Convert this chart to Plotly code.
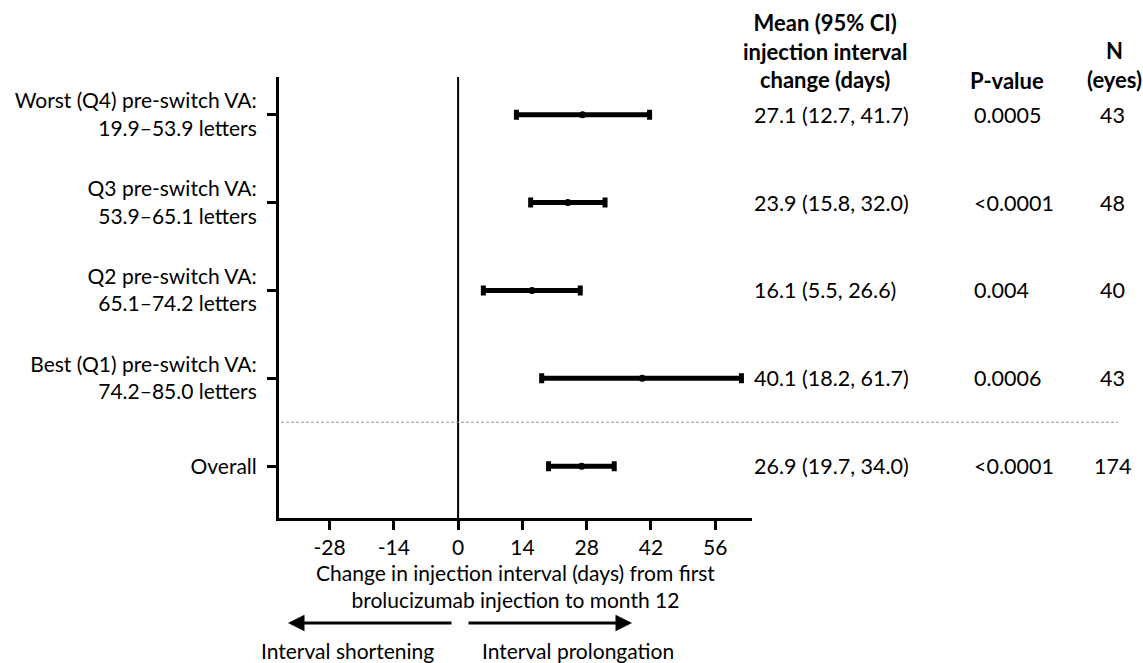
import plotly.graph_objects as go

# ---- data ----
labels = [
    "Worst (Q4) pre-switch VA:<br>19.9–53.9 letters",
    "Q3 pre-switch VA:<br>53.9–65.1 letters",
    "Q2 pre-switch VA:<br>65.1–74.2 letters",
    "Best (Q1) pre-switch VA:<br>74.2–85.0 letters",
    "Overall",
]
means = [27.1, 23.9, 16.1, 40.1, 26.9]
lower = [12.7, 15.8, 5.5, 18.2, 19.7]
upper = [41.7, 32.0, 26.6, 61.7, 34.0]
pvalues = ["0.0005", "<0.0001", "0.004", "0.0006", "<0.0001"]
n_eyes = [43, 48, 40, 43, 174]
row_pos = [5, 4, 3, 2, 1]
x_ticks = [-28, -14, 0, 14, 28, 42, 56]

FONT = "Lato, 'Open Sans', sans-serif"
FS = 21
FS_T = 21.5
FS_H = 22

L, T, PW, PH = 279, 77, 473, 441


def px_x(p):
    return (p - L) / PW


def px_y(p):
    return (T + PH - p) / PH


fig = go.Figure()
fig.add_trace(go.Scatter(
    x=means, y=row_pos, mode="markers",
    marker=dict(color="black", size=7, symbol="circle"),
    error_x=dict(type="data", symmetric=False,
                 array=[u - m for u, m in zip(upper, means)],
                 arrayminus=[m - l for m, l in zip(means, lower)],
                 color="black", thickness=5, width=5),
    showlegend=False, cliponaxis=False,
))

ann = []
for y, m, l, u, p, n in zip(row_pos, means, lower, upper, pvalues, n_eyes):
    ann.append(dict(x=px_x(752), y=y, xref="paper", yref="y", showarrow=False,
                    text=f"{m:.1f} ({l:.1f}, {u:.1f})", xanchor="left", yanchor="middle",
                    font=dict(size=FS_T)))
    ann.append(dict(x=px_x(972), y=y, xref="paper", yref="y", showarrow=False,
                    text=p, xanchor="left", yanchor="middle", font=dict(size=FS_T)))
    ann.append(dict(x=px_x(1112), y=y, xref="paper", yref="y", showarrow=False,
                    text=str(n), xanchor="center", yanchor="middle", font=dict(size=FS_T)))

ann.append(dict(x=px_x(825), y=px_y(51), xref="paper", yref="paper", showarrow=False,
                xanchor="center", yanchor="middle", font=dict(size=FS_H),
                text="<b>Mean (95% CI)<br>injection interval<br>change (days)</b>"))
ann.append(dict(x=px_x(1007), y=px_y(80), xref="paper", yref="paper", showarrow=False,
                xanchor="center", yanchor="middle", font=dict(size=FS_H), text="<b>P-value</b>"))
ann.append(dict(x=px_x(1114), y=px_y(65), xref="paper", yref="paper", showarrow=False,
                xanchor="center", yanchor="middle", font=dict(size=FS_H), text="<b>N<br>(eyes)</b>"))

# axis title
ann.append(dict(x=0.5, y=px_y(586), xref="paper", yref="paper", showarrow=False,
                yanchor="middle", xanchor="center",
                text="Change in injection interval (days) from first<br>brolucizumab injection to month 12"))
# arrows
arrow_y = px_y(623)
ann.append(dict(x=px_x(288), y=arrow_y, ax=px_x(453), ay=0, xref="x domain", yref="paper",
                axref="x domain", ayref="pixel", showarrow=True, arrowhead=2, arrowsize=1.1,
                arrowwidth=3, arrowcolor="black", text=""))
ann.append(dict(x=px_x(632), y=arrow_y, ax=px_x(467), ay=0, xref="x domain", yref="paper",
                axref="x domain", ayref="pixel", showarrow=True, arrowhead=2, arrowsize=1.1,
                arrowwidth=3, arrowcolor="black", text=""))
lab_y = px_y(650)
ann.append(dict(x=px_x(347), y=lab_y, xref="paper", yref="paper", showarrow=False,
                text="Interval shortening", xanchor="center", yanchor="middle"))
ann.append(dict(x=px_x(578), y=lab_y, xref="paper", yref="paper", showarrow=False,
                text="Interval prolongation", xanchor="center", yanchor="middle"))

shapes = [
    dict(type="line", xref="x", yref="paper", x0=0, x1=0, y0=0, y1=1,
         line=dict(color="black", width=2)),
    dict(type="line", xref="paper", yref="y", x0=px_x(281), x1=px_x(1118), y0=1.5, y1=1.5,
         line=dict(color="#999999", width=1, dash="3px,2px")),
]

fig.update_layout(
    width=1143, height=663,
    margin=dict(l=L, r=1143 - L - PW, t=T, b=663 - T - PH),
    paper_bgcolor="white", plot_bgcolor="white",
    font=dict(family=FONT, size=FS, color="black"),
    annotations=ann, shapes=shapes,
    xaxis=dict(range=[-39, 64], tickvals=x_ticks, ticktext=[str(v) for v in x_ticks],
               showgrid=False, zeroline=False, showline=True, linewidth=3, linecolor="black",
               ticks="outside", ticklen=9, tickwidth=3, tickcolor="black",
               tickfont=dict(size=FS)),
    yaxis=dict(range=[0.41, 5.43], tickvals=row_pos, ticktext=labels,
               showgrid=False, zeroline=False, showline=True, linewidth=3, linecolor="black",
               ticks="outside", ticklen=9, tickwidth=3, tickcolor="black",
               ticklabelstandoff=6, tickfont=dict(size=FS)),
)

fig.write_html("out.html")
